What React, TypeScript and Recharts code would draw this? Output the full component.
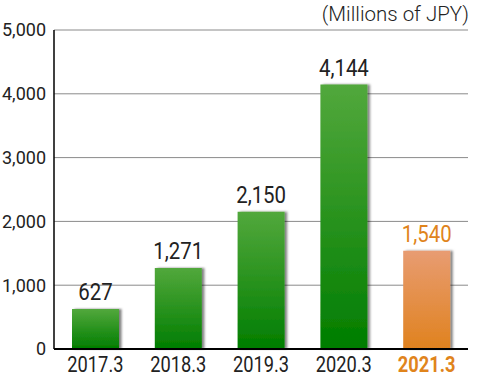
import React from "react";
import { BarChart, Bar, XAxis, YAxis, CartesianGrid, Cell, LabelList } from "recharts";

const categories = ["2017.3", "2018.3", "2019.3", "2020.3", "2021.3"];
const values = [627, 1271, 2150, 4144, 1540];
const yTicks = [0, 1000, 2000, 3000, 4000, 5000];
const unitLabel = "(Millions of JPY)";

const data = categories.map((c, i) => ({ name: c, value: values[i] }));
const lastIndex = categories.length - 1;
const ORANGE = "#e0841c";
const FONT = "Roboto, sans-serif";

const fmt = (v: number) => v.toLocaleString("en-US");

const XTick = (props: any) => {
  const { x, y, payload } = props;
  const last = payload.value === categories[lastIndex];
  return (
    <g transform={`translate(${x},${y}) scale(0.83,1)`}>
      <text
        x={0}
        y={0}
        dy="0.71em"
        textAnchor="middle"
        fontFamily={FONT}
        fontSize={22}
        fontWeight={last ? 700 : 400}
        fill={last ? ORANGE : "#222"}
      >
        {payload.value}
      </text>
    </g>
  );
};

const ValueLabel = (props: any) => {
  const { x, y, width, value, index } = props;
  const last = index === lastIndex;
  return (
    <g transform={`translate(${x + width / 2},${y - 9}) scale(0.85,1)`}>
      <text
        x={0}
        y={0}
        textAnchor="middle"
        fontFamily={FONT}
        fontSize={24}
        fontWeight={400}
        fill={last ? ORANGE : "#222"}
      >
        {fmt(value)}
      </text>
    </g>
  );
};

export default function App() {
  return (
    <div style={{ position: "absolute", left: 0, top: 0, width: 480, height: 376, background: "#fff" }}>
      <div
        style={{
          position: "absolute",
          right: 11,
          top: 2,
          fontFamily: FONT,
          fontSize: 20.5,
          fontWeight: 300,
          lineHeight: "24px",
          color: "#222",
        }}
      >
        {unitLabel}
      </div>
      <BarChart width={480} height={376} data={data} margin={{ top: 30, right: 12, left: 0, bottom: 0 }}>
        <defs>
          <linearGradient id="gGreen" x1="0" y1="0" x2="0" y2="1">
            <stop offset="0%" stopColor="#52a83c" />
            <stop offset="100%" stopColor="#007d00" />
          </linearGradient>
          <linearGradient id="gOrange" x1="0" y1="0" x2="0" y2="1">
            <stop offset="0%" stopColor="#e89c72" />
            <stop offset="100%" stopColor="#e0821e" />
          </linearGradient>
          <filter id="shadow" x="-20%" y="-5%" width="150%" height="110%">
            <feDropShadow dx="2.5" dy="0" stdDeviation="1.2" floodColor="#000" floodOpacity="0.5" />
          </filter>
        </defs>
        <CartesianGrid vertical={false} stroke="#8a8a8a" strokeWidth={1} />
        <XAxis
          dataKey="name"
          height={27}
          tickLine={false}
          tickSize={0}
          tickMargin={7}
          axisLine={{ stroke: "#000", strokeWidth: 2 }}
          tick={<XTick />}
          interval={0}
        />
        <YAxis
          width={54}
          domain={[0, 5000]}
          ticks={yTicks}
          tickFormatter={fmt}
          tickLine={false}
          tickSize={0}
          tickMargin={8}
          axisLine={{ stroke: "#000", strokeWidth: 1.5 }}
          tick={{ fontFamily: FONT, fontSize: 18, fill: "#222" }}
          interval={0}
        />
        <Bar dataKey="value" barSize={47} isAnimationActive={false} filter="url(#shadow)">
          {data.map((d, i) => (
            <Cell key={d.name} fill={i === lastIndex ? "url(#gOrange)" : "url(#gGreen)"} />
          ))}
          <LabelList dataKey="value" content={<ValueLabel />} />
        </Bar>
      </BarChart>
    </div>
  );
}
